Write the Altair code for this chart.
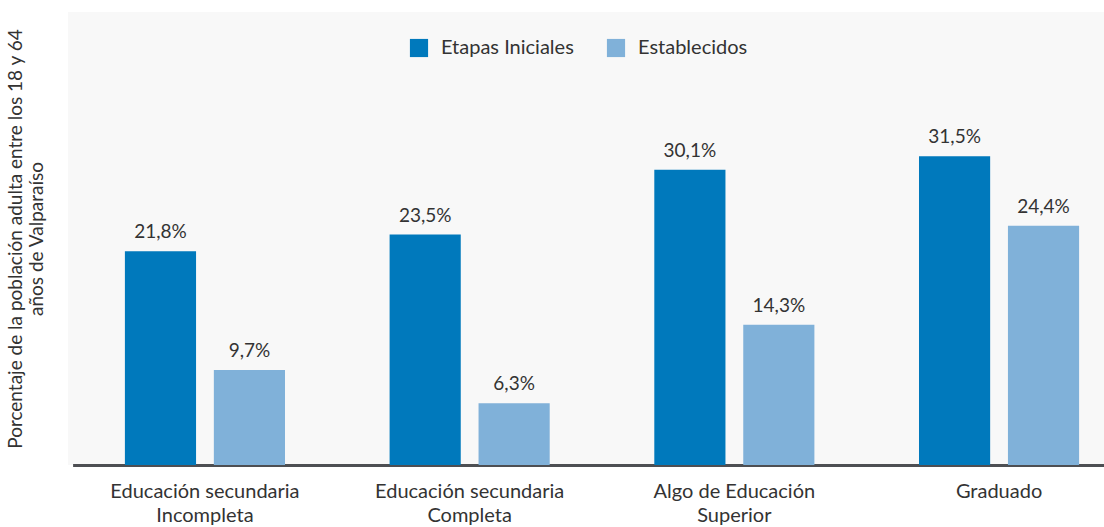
import altair as alt
import pandas as pd

categories = ["Educación secundaria|Incompleta", "Educación secundaria|Completa",
              "Algo de Educación|Superior", "Graduado"]
series = ["Etapas Iniciales", "Establecidos"]
etapas = [21.8, 23.5, 30.1, 31.5]
establecidos = [9.7, 6.3, 14.3, 24.4]

rows = []
for c, a, b in zip(categories, etapas, establecidos):
    rows.append({"cat": c, "serie": series[0], "val": a})
    rows.append({"cat": c, "serie": series[1], "val": b})
df = pd.DataFrame(rows)
df["lbl"] = df["val"].map(lambda v: f"{v:.1f}".replace(".", ",") + "%")

FONT = "Lato"
TXT = "#333333"

x_enc = alt.X("cat:N", sort=categories, title=None,
              scale=alt.Scale(range=[4.6, 1063.4], paddingInner=0, paddingOuter=0),
              axis=alt.Axis(labelExpr="split(datum.label, '|')", labelFont=FONT,
                            labelFontSize=20, labelColor=TXT, labelAngle=0,
                            labelPadding=16, labelLineHeight=24, ticks=False,
                            labelLimit=400,
                            domainColor="#4d4f53", domainWidth=3, grid=False))
xo_enc = alt.XOffset("serie:N", sort=series,
                     scale=alt.Scale(paddingInner=0.2, paddingOuter=0.588))
y_enc = alt.Y("val:Q", scale=alt.Scale(domain=[0, 46.2], nice=False, zero=True),
              title=["Porcentaje de la población adulta entre los 18 y 64", "años de Valparaíso"],
              axis=alt.Axis(labels=False, ticks=False, domain=False, grid=False,
                            titleFont=FONT, titleFontSize=19, titleFontWeight="normal",
                            titleColor=TXT, titlePadding=22, titleLineHeight=21))

bars = alt.Chart(df).mark_bar().encode(
    x=x_enc, xOffset=xo_enc, y=y_enc,
    color=alt.Color("serie:N", sort=series,
                    scale=alt.Scale(domain=series, range=["#0079bc", "#80b1d9"]),
                    legend=alt.Legend(title=None, orient="none", legendX=341, legendY=26,
                                      direction="horizontal", symbolType="square",
                                      symbolSize=330, symbolStrokeWidth=0,
                                      labelFont=FONT, labelFontSize=20, labelColor=TXT,
                                      labelOffset=12, columnPadding=32))
)

labels = alt.Chart(df).mark_text(font=FONT, fontSize=19, color=TXT,
                                 baseline="alphabetic", dy=-13).encode(
    x=alt.X("cat:N", sort=categories), xOffset=alt.XOffset("serie:N", sort=series),
    y="val:Q", text="lbl:N"
)

chart = (bars + labels).properties(
    width=1036, height=453,
    autosize=alt.AutoSizeParams(type="none"),
    padding={"left": 68, "top": 12, "right": 0, "bottom": 62},
    background="white"
).configure_view(fill="#f8f8f8", stroke=None)

chart.save("out.html", embed_options={"renderer": "svg", "actions": False})
